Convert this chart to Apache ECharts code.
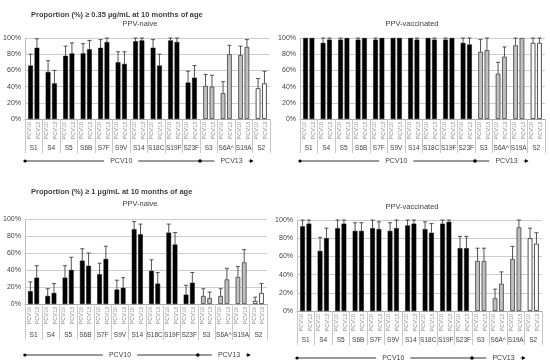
<!DOCTYPE html>
<html><head><meta charset="utf-8">
<script src="https://cdn.jsdelivr.net/npm/echarts@6/dist/echarts.min.js"></script>
<style>html,body{margin:0;padding:0;background:#fff}#c{width:550px;height:364px}</style>
</head><body><div id="c"></div>
<script>
const serotypes = ['S1','S4','S5','S6B','S7F','S9V','S14','S18C','S19F','S23F','S3','S6A^','S19A','S2'];
const serotypeGroup = ['pcv10','pcv10','pcv10','pcv10','pcv10','pcv10','pcv10','pcv10','pcv10','pcv10','pcv13','pcv13','pcv13','ppv'];
const subLabels = ['PCV10','PCV13'];
const yTicks = [0, 20, 40, 60, 80, 100];

// Proportion >= 0.35 ug/mL, PPV-naive
const naive035_pcv10 = [66,58,78,81,88,70,96,88,97,45,41,32,79,38];
const naive035_pcv10_upper = [80,72,90,93,98,83,100,98,100,59,55,46,90,50];
const naive035_pcv13 = [88,44,81,86,95,68,97,66,95,51,40,80,89,44];
const naive035_pcv13_upper = [99,60,94,97,100,83,100,80,100,66,54,91,98,59];
// Proportion >= 0.35 ug/mL, PPV-vaccinated
const vacc035_pcv10 = [100,94,98,98,98,100,100,100,98,94,83,56,91,94];
const vacc035_pcv10_upper = [100,100,100,100,100,100,100,100,100,100,98,70,100,100];
const vacc035_pcv13 = [100,98,100,100,100,100,98,98,100,92,85,77,100,94];
const vacc035_pcv13_upper = [100,100,100,100,100,100,100,100,100,100,100,89,100,100];
// Proportion >= 1 ug/mL, PPV-naive
const naive1_pcv10 = [15,9.5,31,51,35,17,88,39,84,11,9.5,9.5,32,3.5];
const naive1_pcv10_upper = [26,18,45,65,48,28,97,52,94,22,18,18,44,8];
const naive1_pcv13 = [31,13,40,45,53,19,82,24,70,25,7,29,49,13];
const naive1_pcv13_upper = [45,24,55,60,68,31,94,37,84,37,14,42,64,24];
// Proportion >= 1 ug/mL, PPV-vaccinated
const vacc1_pcv10 = [93,66,91,88,91,88,94,90,96,69,55,14,57,80];
const vacc1_pcv10_upper = [100,81,100,97,100,97,100,98,100,82,69,24,71,91];
const vacc1_pcv13 = [96,80,96,88,90,91,96,86,98,69,55,30,92,74];
const vacc1_pcv13_upper = [100,91,100,97,98,100,100,96,100,82,69,43,100,86];

const FONT = 'Liberation Sans, Arial, sans-serif';
const panels = [
  {title:'Proportion (%) \u2265 0.35 \u00b5g/mL at 10 months of age', titleY:15, sub:'PPV-naive', subX:140, subY:24,
   a:naive035_pcv10, au:naive035_pcv10_upper, b:naive035_pcv13, bu:naive035_pcv13_upper,
   grid:{left:25, top:38, width:245, height:81}, labelMargin:26, tickLen:34, bracketOff:42},
  {title:null, sub:'PPV-vaccinated', subX:412, subY:24,
   a:vacc035_pcv10, au:vacc035_pcv10_upper, b:vacc035_pcv13, bu:vacc035_pcv13_upper,
   grid:{left:300, top:38, width:245, height:81}, labelMargin:26, tickLen:34, bracketOff:42},
  {title:'Proportion (%) \u2265 1 \u00b5g/mL at 10 months of age', titleY:192, sub:'PPV-naive', subX:140, subY:204,
   a:naive1_pcv10, au:naive1_pcv10_upper, b:naive1_pcv13, bu:naive1_pcv13_upper,
   grid:{left:24, top:219, width:243, height:85}, labelMargin:28, tickLen:36, bracketOff:51},
  {title:null, sub:'PPV-vaccinated', subX:412, subY:207,
   a:vacc1_pcv10, au:vacc1_pcv10_upper, b:vacc1_pcv13, bu:vacc1_pcv13_upper,
   grid:{left:297, top:220, width:245, height:91}, labelMargin:26, tickLen:34, bracketOff:47}
];

const BAR_W = 0.27, BAR_GAP = 0.35;
function styleFor(k){
  const g = serotypeGroup[k];
  if (g === 'pcv10') return {color:'#000', borderColor:'#000', borderWidth:0.5};
  if (g === 'pcv13') return {color:'#bfbfbf', borderColor:'#404040', borderWidth:0.8};
  return {color:'#fff', borderColor:'#262626', borderWidth:0.8};
}
function errSeries(i, vals, ups, side){
  return {
    type:'custom', xAxisIndex:2*i, yAxisIndex:i, z:5, silent:true, clip:false,
    data: vals.map((v,k)=>[k, v, ups[k]]),
    encode:{x:0, y:1},
    renderItem:(params, api)=>{
      const w = api.size([1,0])[0];
      const bw = BAR_W*w;
      const off = side*bw*(1+BAR_GAP)/2;
      const top = api.coord([api.value(0), api.value(1)]);
      const up = api.coord([api.value(0), api.value(2)]);
      const x = top[0] + off;
      if (Math.abs(up[1]-top[1]) < 0.5) return null;
      const st = {stroke:'#404040', lineWidth:0.9};
      return {type:'group', children:[
        {type:'line', shape:{x1:x, y1:top[1], x2:x, y2:up[1]}, style:st},
        {type:'line', shape:{x1:x-2, y1:up[1], x2:x+2, y2:up[1]}, style:st}
      ]};
    }
  };
}

const grids=[], xAxes=[], yAxes=[], series=[];
panels.forEach((p,i)=>{
  grids.push(Object.assign({}, p.grid));
  xAxes.push({type:'category', gridIndex:i, data:serotypes, position:'bottom',
    axisLine:{show:true, lineStyle:{color:'#a6a6a6', width:1}},
    axisTick:{show:true, interval:0, length:p.tickLen, lineStyle:{color:'#c8c8c8'}},
    axisLabel:{interval:0, margin:p.labelMargin, fontSize:6.5, color:'#404040', fontFamily:FONT}});
  xAxes.push({type:'category', gridIndex:i, data:serotypes.flatMap(()=>subLabels), position:'bottom',
    axisLine:{show:false}, axisTick:{show:false},
    axisLabel:{interval:0, rotate:90, margin:3, fontSize:5.5, color:'#8c8c8c', fontFamily:FONT}});
  yAxes.push({type:'value', gridIndex:i, min:yTicks[0], max:yTicks[yTicks.length-1], interval:yTicks[1]-yTicks[0],
    axisLine:{show:true, lineStyle:{color:'#bfbfbf'}}, axisTick:{show:false},
    splitLine:{lineStyle:{color:'#bfbfbf', width:0.8}},
    axisLabel:{formatter:'{value}%', fontSize:7, color:'#404040', margin:4, fontFamily:FONT}});
  series.push({type:'bar', xAxisIndex:2*i, yAxisIndex:i, barWidth:(BAR_W*100)+'%', barGap:(BAR_GAP*100)+'%',
    data:p.a.map((v,k)=>({value:v, itemStyle:styleFor(k)})), animation:false});
  series.push({type:'bar', xAxisIndex:2*i, yAxisIndex:i, barWidth:(BAR_W*100)+'%', barGap:(BAR_GAP*100)+'%',
    data:p.b.map((v,k)=>({value:v, itemStyle:styleFor(k)})), animation:false});
  series.push(errSeries(i, p.a, p.au, -1));
  series.push(errSeries(i, p.b, p.bu, 1));
});

const chart = echarts.init(document.getElementById('c'));
chart.setOption({animation:false, grid:grids, xAxis:xAxes, yAxis:yAxes, series:series});

const graphics = [];
panels.forEach((p,i)=>{
  if (p.title) graphics.push({type:'text', x:31, y:p.titleY, style:{text:p.title, fontSize:7.5, fontWeight:'bold', fill:'#404040', fontFamily:FONT, textVerticalAlign:'middle'}});
  graphics.push({type:'text', x:p.subX, y:p.subY, style:{text:p.sub, fontSize:7.5, fill:'#404040', fontFamily:FONT, textAlign:'center', textVerticalAlign:'middle'}});
  const ax = {xAxisIndex:2*i};
  const px = k => chart.convertToPixel(ax, serotypes[k]);
  const w = p.grid.width/serotypes.length;
  const x0 = px(0) - w/2;
  const x1 = (px(9)+px(10))/2;
  const x2 = (px(12)+px(13))/2;
  const y = p.grid.top + p.grid.height + p.bracketOff;
  const ls = {stroke:'#000', lineWidth:0.8};
  graphics.push({type:'line', shape:{x1:x0, y1:y, x2:x2, y2:y}, style:ls});
  graphics.push({type:'circle', shape:{cx:x0, cy:y, r:1.6}, style:{fill:'#000'}});
  graphics.push({type:'circle', shape:{cx:x1, cy:y, r:1.8}, style:{fill:'#000'}});
  graphics.push({type:'polygon', shape:{points:[[x2+1,y],[x2-2.5,y-2],[x2-2.5,y+2]]}, style:{fill:'#000'}});
  graphics.push({type:'text', x:px(5), y:y, z:10, style:{text:'PCV10', fontSize:7, fill:'#404040', fontFamily:FONT, textAlign:'center', textVerticalAlign:'middle', backgroundColor:'#fff', padding:[1,6]}});
  graphics.push({type:'text', x:px(11)+0.3*w, y:y, z:10, style:{text:'PCV13', fontSize:7, fill:'#404040', fontFamily:FONT, textAlign:'center', textVerticalAlign:'middle', backgroundColor:'#fff', padding:[1,6]}});
});
chart.setOption({graphic:graphics});
</script>
</body></html>
